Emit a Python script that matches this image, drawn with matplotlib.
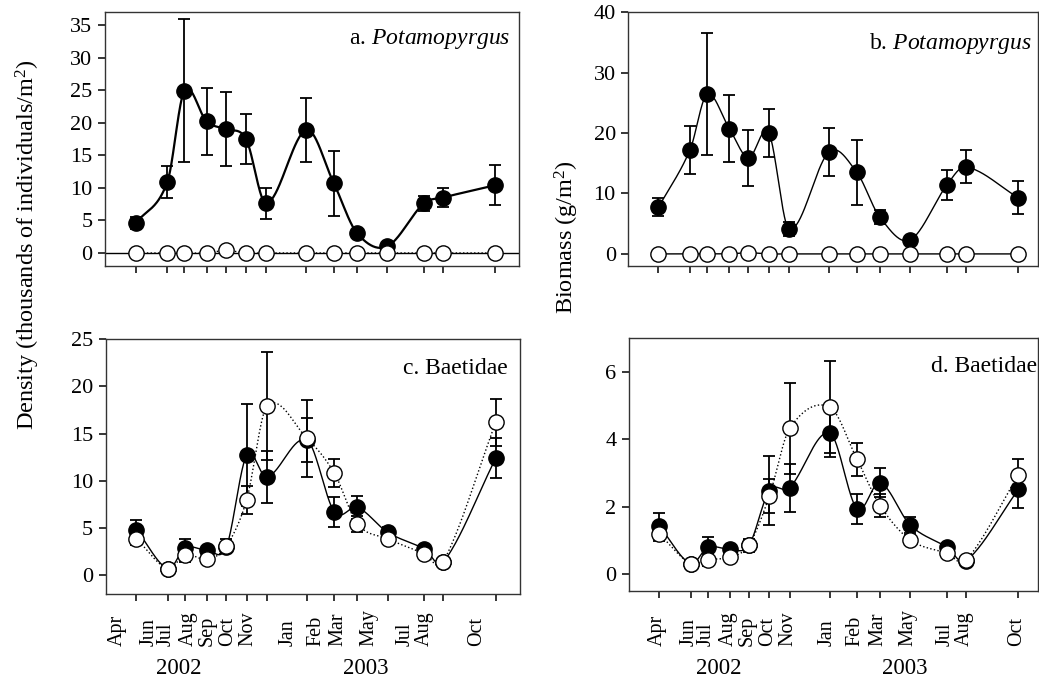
import numpy as np
import pandas as pd
import matplotlib
matplotlib.use("Agg")
import matplotlib.pyplot as plt
from matplotlib.transforms import blended_transform_factory, ScaledTranslation

plt.rcParams['font.family'] = ['Liberation Serif', 'DejaVu Serif']
plt.rcParams['mathtext.fontset'] = 'custom'
plt.rcParams['mathtext.rm'] = 'Liberation Serif'
plt.rcParams['mathtext.it'] = 'Liberation Serif:italic'

# sampling dates (Apr 2002 - Oct 2003)
dates = ["2002-04-20", "2002-06-07", "2002-07-03", "2002-08-06", "2002-09-04",
         "2002-10-05", "2002-11-05", "2003-01-05", "2003-02-16", "2003-03-23",
         "2003-05-08", "2003-07-03", "2003-08-01", "2003-10-20"]
month_labels = ["Apr", "Jun", "Jul", "Aug", "Sep", "Oct", "Nov",
                "Jan", "Feb", "Mar", "May", "Jul", "Aug", "Oct"]

# a. Potamopyrgus density (thousands/m2)
pot_dens_fill = [4.6, 10.9, 24.9, 20.2, 19.0, 17.5, 7.6, 18.9, 10.7, 3.1, 1.0, 7.6, 8.5, 10.4]
pot_dens_fill_se = [0.85, 2.5, 11.0, 5.2, 5.7, 3.8, 2.4, 4.9, 5.0, 0.4, 0.3, 1.2, 1.45, 3.05]
pot_dens_open = [0, 0, 0, 0, 0.4, 0, 0, 0, 0, 0, 0, 0, 0, 0]
pot_dens_open_se = [0, 0, 0, 0, 0.2, 0, 0, 0, 0, 0, 0, 0, 0, 0]

# b. Potamopyrgus biomass (g/m2)
pot_bio_fill = [7.7, 17.2, 26.4, 20.7, 15.9, 20.0, 4.1, 16.9, 13.5, 6.1, 2.3, 11.35, 14.4, 9.3]
pot_bio_fill_se = [1.5, 4.0, 10.1, 5.5, 4.6, 4.0, 1.15, 4.0, 5.35, 1.15, 0.3, 2.45, 2.75, 2.75]
pot_bio_open = [0, 0, 0, 0, 0.2, 0, 0, 0, 0, 0, 0, 0, 0, 0]
pot_bio_open_se = [0, 0, 0, 0, 0.1, 0, 0, 0, 0, 0, 0, 0, 0, 0]

# c. Baetidae density
bae_dens_fill = [4.85, 0.7, 2.9, 2.67, 3.0, 12.7, 10.4, 14.3, 6.7, 7.2, 4.57, 2.8, 1.4, 12.4]
bae_dens_fill_se = [1.05, 0.1, 0.9, 0.3, 0.4, 5.4, 2.75, 2.3, 1.55, 1.2, 0.55, 0.3, 0.15, 2.1]
bae_dens_open = [3.87, 0.7, 2.2, 1.7, 3.1, 8.0, 17.9, 14.5, 10.8, 5.45, 3.87, 2.3, 1.45, 16.2]
bae_dens_open_se = [0.7, 0.1, 0.8, 0.3, 0.7, 1.5, 5.7, 4.1, 1.5, 0.85, 0.5, 0.3, 0.15, 2.5]

# d. Baetidae biomass
bae_bio_fill = [1.43, 0.3, 0.79, 0.73, 0.85, 2.47, 2.56, 4.19, 1.93, 2.71, 1.45, 0.79, 0.38, 2.51]
bae_bio_fill_se = [0.39, 0.03, 0.3, 0.07, 0.2, 1.03, 0.71, 0.73, 0.44, 0.44, 0.23, 0.1, 0.05, 0.55]
bae_bio_open = [1.19, 0.3, 0.415, 0.5, 0.86, 2.31, 4.32, 4.96, 3.4, 2.03, 1.01, 0.61, 0.4, 2.94]
bae_bio_open_se = [0.2, 0.03, 0.18, 0.07, 0.15, 0.5, 1.34, 1.36, 0.48, 0.33, 0.15, 0.1, 0.05, 0.47]

d = pd.to_datetime(dates)
x = np.array((d - d[0]).days, dtype=float)


def smooth(xv, yv, per_seg=40):
    # cubic Hermite (Catmull-Rom style) curve through the points, for the connecting line only
    xv = np.asarray(xv, float)
    yv = np.asarray(yv, float)
    m = np.zeros_like(yv)
    m[1:-1] = (yv[2:] - yv[:-2]) / (xv[2:] - xv[:-2])
    m[0] = (yv[1] - yv[0]) / (xv[1] - xv[0])
    m[-1] = (yv[-1] - yv[-2]) / (xv[-1] - xv[-2])
    xs_all, ys_all = [], []
    for i in range(len(xv) - 1):
        h = xv[i + 1] - xv[i]
        t = np.linspace(0, 1, per_seg)
        h00 = 2 * t**3 - 3 * t**2 + 1
        h10 = t**3 - 2 * t**2 + t
        h01 = -2 * t**3 + 3 * t**2
        h11 = t**3 - t**2
        xs_all.append(xv[i] + t * h)
        ys_all.append(h00 * yv[i] + h10 * h * m[i] + h01 * yv[i + 1] + h11 * h * m[i + 1])
    return np.concatenate(xs_all), np.concatenate(ys_all)


fig = plt.figure(figsize=(10.39, 6.84), dpi=100)
ax_a = fig.add_axes([0.1011, 0.6111, 0.3988, 0.3713])
ax_b = fig.add_axes([0.6047, 0.6111, 0.3943, 0.3713])
ax_c = fig.add_axes([0.1017, 0.1311, 0.3988, 0.3732])
ax_d = fig.add_axes([0.6054, 0.1364, 0.3937, 0.3690])

FS_TICK = 16
FS_LAB = 17.5
FS_TITLE = 17
FS_MONTH = 14.5
MS = 11


def draw(ax, yf, ef, yo, eo, lw_fill, open_ls):
    xs, ys = smooth(x, yf)
    ax.plot(xs, ys, color="black", lw=lw_fill, zorder=2)
    xs, ys = smooth(x, yo)
    ax.plot(xs, ys, color="black", lw=1.0, ls=open_ls, zorder=2)
    ax.errorbar(x, yf, yerr=ef, fmt="none", ecolor="black", elinewidth=1.3,
                capsize=4, capthick=1.3, zorder=2.5)
    ax.errorbar(x, yo, yerr=eo, fmt="none", ecolor="black", elinewidth=1.3,
                capsize=4, capthick=1.3, zorder=2.5)
    ax.plot(x, yf, "o", ms=MS, mfc="black", mec="black", mew=1, zorder=3)
    ax.plot(x, yo, "o", ms=MS, mfc="white", mec="black", mew=1, zorder=4)


draw(ax_a, pot_dens_fill, pot_dens_fill_se, pot_dens_open, pot_dens_open_se, 1.6, ":")
ax_a.axhline(0, color="black", lw=1.0, zorder=1.5)
draw(ax_b, pot_bio_fill, pot_bio_fill_se, pot_bio_open, pot_bio_open_se, 1.0, "-")
draw(ax_c, bae_dens_fill, bae_dens_fill_se, bae_dens_open, bae_dens_open_se, 1.0, ":")
draw(ax_d, bae_bio_fill, bae_bio_fill_se, bae_bio_open, bae_bio_open_se, 1.0, ":")

ax_a.set_ylim(-2, 37)
ax_a.set_yticks(np.arange(0, 36, 5))
ax_b.set_ylim(-2, 40)
ax_b.set_yticks(np.arange(0, 41, 10))
ax_c.set_ylim(-2, 25)
ax_c.set_yticks(np.arange(0, 26, 5))
ax_d.set_ylim(-0.5, 7)
ax_d.set_yticks([0, 2, 4, 6])

ax_a.set_xlim(-47, 585)
ax_c.set_xlim(-47, 585)
ax_b.set_xlim(-46, 578)
ax_d.set_xlim(-46, 578)

for ax in (ax_a, ax_b, ax_c, ax_d):
    ax.set_xticks(x)
    ax.set_xticklabels([])
    ax.tick_params(direction="out", length=5, width=1.1, labelsize=FS_TICK, pad=4)
    for s in ax.spines.values():
        s.set_linewidth(1.0)
        s.set_color("#333333")

titles = [(ax_a, 0.978, 0.894, "a. $\\mathit{Potamopyrgus}$"),
          (ax_b, 0.985, 0.878, "b. $\\mathit{Potamopyrgus}$"),
          (ax_c, 0.971, 0.886, "c. Baetidae"),
          (ax_d, 0.997, 0.887, "d. Baetidae")]
for ax, tx, ty, t in titles:
    ax.text(tx, ty, t, transform=ax.transAxes, ha="right", va="center", fontsize=FS_TITLE)

# month labels under the bottom panels
for ax, shift in ((ax_c, -19), (ax_d, -2)):
    tr = blended_transform_factory(ax.transData, fig.transFigure)
    tr = tr + ScaledTranslation(shift / 100, 0, fig.dpi_scale_trans)
    for xv, lab in zip(x, month_labels):
        ax.text(xv, 1 - 646 / 684, lab, transform=tr, rotation=90,
                ha="center", va="bottom", fontsize=FS_MONTH)

for xf, yr in ((179, "2002"), (365.7, "2003"), (719, "2002"), (905, "2003")):
    fig.text(xf / 1039, 1 - 668 / 684, yr, ha="center", va="center", fontsize=16.5)

fig.text(28 / 1039, 1 - 245 / 684, "Density (thousands of individuals/m$^2$)",
         rotation=90, ha="center", va="center", fontsize=FS_LAB)
fig.text(567 / 1039, 1 - 237 / 684, "Biomass (g/m$^2$)",
         rotation=90, ha="center", va="center", fontsize=FS_LAB)

fig.savefig("out.png", dpi=100)
